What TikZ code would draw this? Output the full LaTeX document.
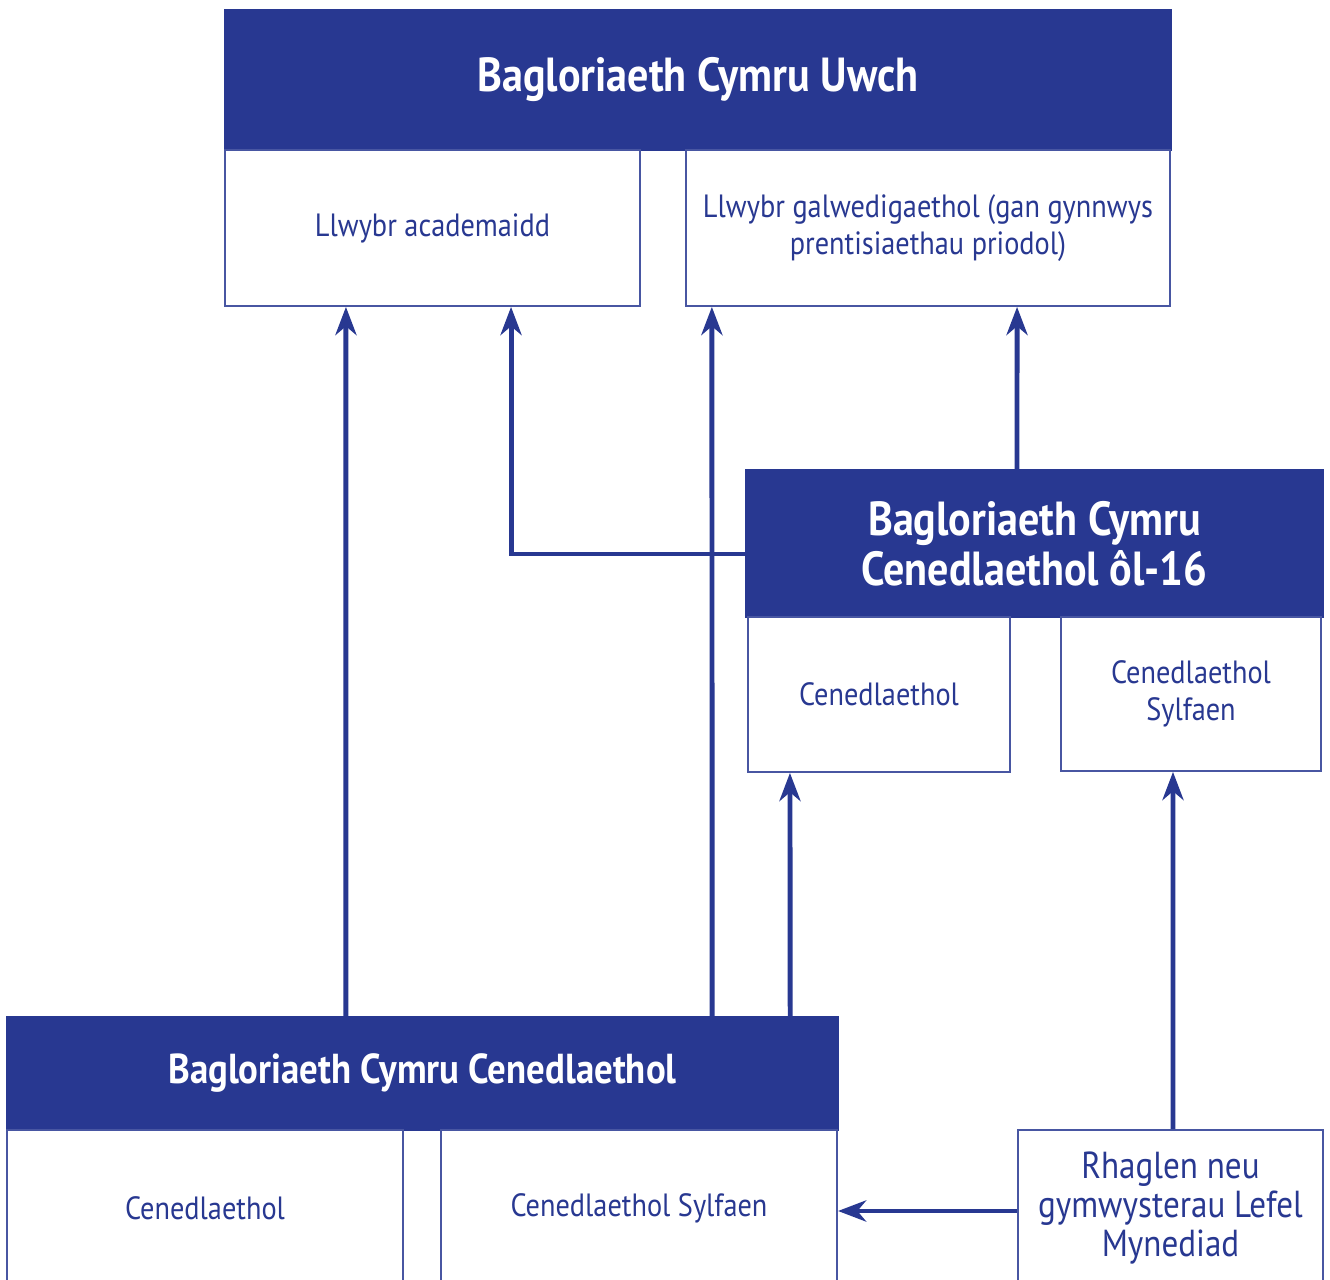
\documentclass[tikz,border=0pt]{standalone}
\usepackage{fontspec}
\setmainfont[FakeStretch=0.88]{PT Sans}
\usepackage{tikz}
\usetikzlibrary{arrows.meta}
\definecolor{bac_blue}{RGB}{40,56,145}
\newcommand\hdrfont{\fontsize{13.6}{14.2}\selectfont\bfseries}
\newcommand\boxfont{\fontsize{9.15}{10.5}\selectfont}

\begin{document}
\begin{tikzpicture}[x=0.01cm,y=-0.01cm,->,>={Stealth[length=8pt,width=6pt,inset=2.5pt]},line width=1.4pt]
    \tikzstyle{hdr}=[draw=bac_blue,fill=bac_blue,text=white,line width=0.4pt,align=center,inner sep=0pt,font=\hdrfont]
    \tikzstyle{pathbox}=[draw=bac_blue!85,fill=white,text=bac_blue,line width=0.5pt,align=center,inner sep=0pt,minimum height=1.56cm,font=\boxfont]
    \tikzstyle{conn}=[draw=bac_blue]

    \useasboundingbox (0,0) rectangle (1330,1280);
    \clip (0,0) rectangle (1330,1280);

    % top level
    \node[hdr,minimum width=9.46cm,minimum height=1.40cm] (uwch) at (698,80)   {Bagloriaeth Cymru Uwch};
    \node[pathbox,minimum width=4.15cm]                   (acad) at (432.5,228) {Llwybr academaidd};
    \node[pathbox,minimum width=4.84cm]                   (galw) at (928,228)   {Llwybr galwedigaethol (gan gynnwys\\prentisiaethau priodol)};

    % post-16 level
    \node[hdr,minimum width=5.77cm,minimum height=1.47cm] (hdrmid) at (1034.5,543.5) {Bagloriaeth Cymru\\Cenedlaethol ôl-16};
    \node[pathbox,minimum width=2.62cm,minimum height=1.55cm] (cenmid) at (879,694.5) {Cenedlaethol};
    \node[pathbox,minimum width=2.60cm,minimum height=1.54cm] (sylmid) at (1191,694)  {Cenedlaethol\\Sylfaen};

    % bottom level
    \node[hdr,minimum width=8.31cm,minimum height=1.13cm,font=\fontsize{11.9}{14.2}\selectfont\bfseries] (hdrbot) at (422.5,1073.5) {Bagloriaeth Cymru Cenedlaethol};
    \node[pathbox,minimum width=3.96cm] (cenbot) at (205,1208) {Cenedlaethol};
    \node[pathbox,minimum width=3.96cm] (sylbot) at (639,1208) {Cenedlaethol Sylfaen};
    \node[pathbox,minimum width=3.05cm,font=\fontsize{10.7}{11.1}\selectfont] (rhag) at (1170.5,1208) {Rhaglen neu\\gymwysterau Lefel\\Mynediad};

    \path[every edge/.style={draw=bac_blue}]
     ([xshift=-0.765cm]hdrbot.north) edge ([xshift=-0.865cm]acad.south)
     ([xshift=2.895cm]hdrbot.north)  edge ([xshift=-2.16cm]galw.south)
     ([xshift=3.675cm]hdrbot.north)  edge ([xshift=-0.89cm]cenmid.south)
     ([xshift=0.025cm]rhag.north)    edge ([xshift=-0.18cm]sylmid.south)
     ([xshift=-0.175cm]hdrmid.north) edge ([xshift=0.89cm]galw.south)
     ([yshift=-0.03cm]rhag.west)     edge ([yshift=-0.03cm]sylbot.east);
    \draw[conn] ([yshift=-0.105cm]hdrmid.west) -| ([xshift=0.785cm]acad.south);
\end{tikzpicture}
\end{document}
